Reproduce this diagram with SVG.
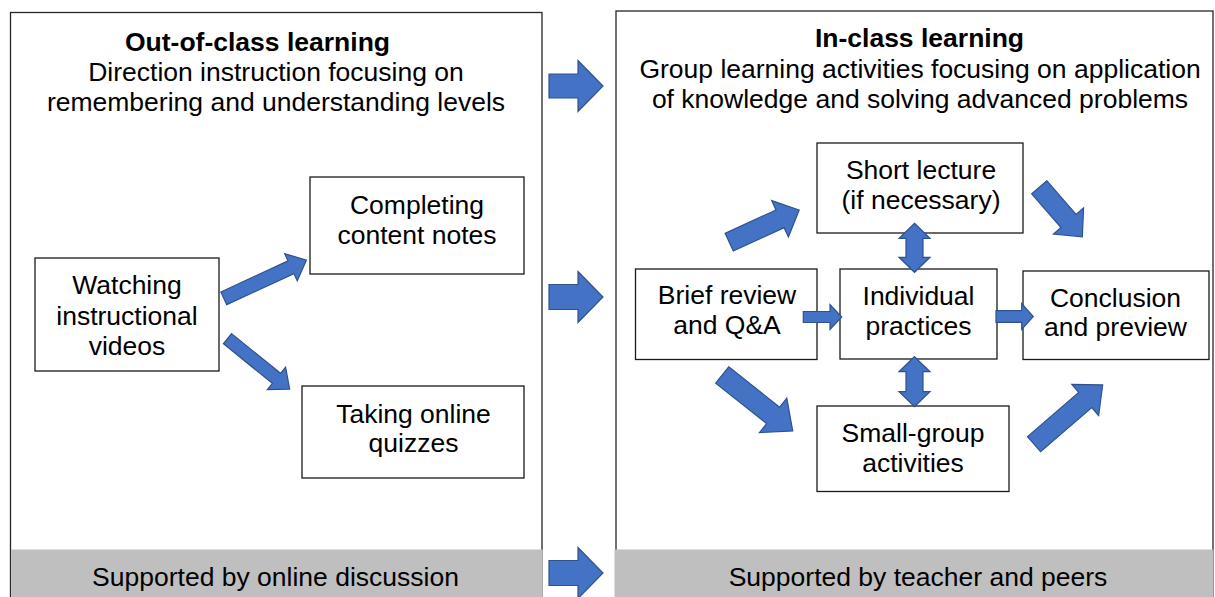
<svg xmlns="http://www.w3.org/2000/svg" width="1215" height="597" viewBox="0 0 1215 597">
<style>
  .panel { fill: #ffffff; stroke: #262626; stroke-width: 1.3; }
  .bar { fill: #bfbfbf; stroke: none; }
  .box { fill: #ffffff; stroke: #1a1a1a; stroke-width: 1.3; }
  .arr { fill: #4472c4; stroke: #2f528f; stroke-width: 1.2; stroke-linejoin: miter; }
  text { font-family: "Liberation Sans", Arial, sans-serif; font-size: 26.5px; fill: #000000; text-anchor: middle; }
  .b { font-weight: bold; }
</style>
<rect width="1215" height="597" fill="#ffffff"/>

<g id="panel-out">
  <rect class="panel" x="10.5" y="12.5" width="531.5" height="600"/>
  <rect class="bar" x="11.2" y="549.5" width="531.5" height="48"/>
  <text class="b" x="257.5" y="50.5">Out-of-class learning</text>
  <text x="276" y="81">Direction instruction focusing on</text>
  <text x="276" y="111">remembering and understanding levels</text>
  <text x="275.5" y="586">Supported by online discussion</text>
</g>

<g id="panel-in">
  <rect class="panel" x="616" y="11" width="597" height="600"/>
  <rect class="bar" x="614.5" y="549.5" width="599" height="48"/>
  <text class="b" x="919.5" y="47">In-class learning</text>
  <text x="920" y="78">Group learning activities focusing on application</text>
  <text x="920" y="108">of knowledge and solving advanced problems</text>
  <text x="918" y="586">Supported by teacher and peers</text>
</g>

<g id="node-watching">
  <rect class="box" x="35" y="258" width="184" height="113"/>
  <text x="127" y="294">Watching</text>
  <text x="127" y="324.5">instructional</text>
  <text x="127" y="355">videos</text>
</g>
<g id="node-completing">
  <rect class="box" x="310" y="177" width="214" height="97"/>
  <text x="417" y="213.5">Completing</text>
  <text x="417" y="243.5">content notes</text>
</g>
<g id="node-taking">
  <rect class="box" x="302" y="386" width="222" height="92"/>
  <text x="413.5" y="422.5">Taking online</text>
  <text x="413.5" y="452">quizzes</text>
</g>
<g id="node-short">
  <rect class="box" x="817" y="143" width="206" height="90"/>
  <text x="921" y="179.3">Short lecture</text>
  <text x="921" y="209.3">(if necessary)</text>
</g>
<g id="node-brief">
  <rect class="box" x="635.5" y="269" width="181.5" height="90.5"/>
  <text x="727" y="304">Brief review</text>
  <text x="727" y="334">and Q&amp;A</text>
</g>
<g id="node-individual">
  <rect class="box" x="840" y="269" width="157" height="90"/>
  <text x="918.5" y="305">Individual</text>
  <text x="918.5" y="334.5">practices</text>
</g>
<g id="node-conclusion">
  <rect class="box" x="1023" y="271" width="186" height="88.5"/>
  <text x="1115.5" y="306.5">Conclusion</text>
  <text x="1115.5" y="335.5">and preview</text>
</g>
<g id="node-small">
  <rect class="box" x="817" y="406" width="192" height="85.5"/>
  <text x="913" y="441.5">Small-group</text>
  <text x="913" y="471.5">activities</text>
</g>

<g id="connectors">
  <!-- between panels -->
  <polygon class="arr" transform="translate(549,86)" points="0,-12 29,-12 29,-25.5 54,0 29,25.5 29,12 0,12"/>
  <polygon class="arr" transform="translate(549,297)" points="0,-12.5 29,-12.5 29,-25.5 54,0 29,25.5 29,12.5 0,12.5"/>
  <polygon class="arr" transform="translate(549,573)" points="0,-12.5 29,-12.5 29,-25.5 54,0 29,25.5 29,12.5 0,12.5"/>
  <!-- out-of-class -->
  <polygon class="arr" transform="translate(223.8,298.3) rotate(-24.8)" points="0,-7 74,-7 74,-15 91,0 74,15 74,7 0,7"/>
  <polygon class="arr" transform="translate(227.5,338.7) rotate(39)" points="0,-6.5 63,-6.5 63,-14.5 80,0 63,14.5 63,6.5 0,6.5"/>
  <!-- in-class -->
  <polygon class="arr" transform="translate(729.2,242.2) rotate(-24.7)" points="0,-9.75 56,-9.75 56,-20 77,0 56,20 56,9.75 0,9.75"/>
  <polygon class="arr" transform="translate(1039.2,187.3) rotate(48.9)" points="0,-10 44.6,-10 44.6,-20 65.6,0 44.6,20 44.6,10 0,10"/>
  <polygon class="arr" transform="translate(722.2,375) rotate(38.4)" points="0,-10.5 65,-10.5 65,-22 90,0 65,22 65,10.5 0,10.5"/>
  <polygon class="arr" transform="translate(1034,444.2) rotate(-40.8)" points="0,-10 67.7,-10 67.7,-20.5 90.7,0 67.7,20.5 67.7,10 0,10"/>
  <polygon class="arr" transform="translate(803.3,317)" points="0,-5.5 26.7,-5.5 26.7,-12.5 38.4,0 26.7,12.5 26.7,5.5 0,5.5"/>
  <polygon class="arr" transform="translate(996,316.5)" points="0,-5.8 25.7,-5.8 25.7,-12.85 37.3,0 25.7,12.85 25.7,5.8 0,5.8"/>
  <polygon class="arr" points="914.5,223.3 930,238.3 923,238.3 923,257.3 930,257.3 914.5,272.3 899,257.3 906,257.3 906,238.3 899,238.3"/>
  <polygon class="arr" points="914.5,356.7 930,371.7 923,371.7 923,391.7 930,391.7 914.5,406.7 899,391.7 906,391.7 906,371.7 899,371.7"/>
</g>
</svg>
